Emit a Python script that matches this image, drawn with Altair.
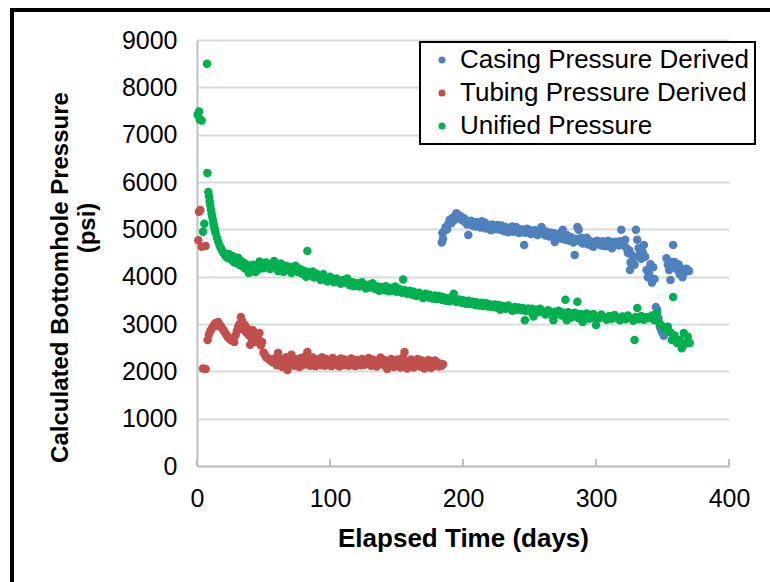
import altair as alt
import pandas as pd

# ---------------- data ----------------
series_names = ["Casing Pressure Derived", "Tubing Pressure Derived", "Unified Pressure"]
series_colors = ["#4F81BD", "#C0504D", "#00B050"]

casing_days = [184, 184.5, 185, 186, 187, 188, 189, 190, 191, 192, 193, 194, 195, 196, 197, 198, 199, 200,
               201, 202, 203, 204, 205, 206, 207, 208, 209, 210, 211, 212, 213, 214, 215, 216, 217, 218, 219,
               220, 221, 222, 223, 224, 225, 226, 227, 228, 229, 230, 231, 232, 233, 234, 235, 236, 237, 238,
               239, 240, 241, 242, 243, 244, 245, 246, 247, 248, 249, 250, 251, 252, 253, 254, 255, 256, 257,
               258, 259, 260, 261, 262, 263, 264, 265, 266, 267, 268, 269, 270, 271, 272, 273, 274, 275, 276,
               277, 278, 279, 280, 281, 282, 283, 284, 285, 286, 287, 288, 289, 290, 291, 292, 293, 294, 295,
               296, 297, 298, 299, 300, 301, 302, 303, 304, 305, 306, 307, 308, 309, 310, 311, 312, 313, 314,
               315, 316, 317, 318, 319, 320, 321, 322, 323, 324, 325, 325.5, 326, 327, 328, 329, 330, 331, 332,
               333, 334, 335, 336, 337, 338, 339, 340, 341, 342, 343, 344, 345, 346, 347, 348, 349, 350, 351,
               353, 354, 355, 356, 357, 358, 359, 360, 361, 362, 363, 364, 365, 366, 367, 368, 369, 370]
casing_psi = [4720, 4920, 4800, 4970, 5050, 5000, 5120, 5200, 5130, 5240, 5180, 5280, 5340, 5250, 5300, 5220,
              5260, 5180, 5230, 5150, 5100, 4880, 5140, 5180, 5080, 5120, 5060, 5150, 5090, 5130, 5040, 5170,
              5080, 5150, 5020, 5110, 5060, 5050, 4980, 5100, 5030, 5070, 5000, 5090, 5040, 4990, 5080, 5020,
              4960, 5050, 5000, 4940, 5030, 4980, 5060, 4950, 5010, 5050, 4970, 4920, 5000, 4940, 4990, 4670,
              4930, 5010, 4950, 4990, 4900, 4960, 4920, 4980, 4940, 4880, 4960, 4910, 5050, 4990, 4920, 4870,
              4950, 4900, 4850, 4930, 4880, 4920, 4730, 4850, 4900, 4820, 4880, 4800, 4990, 4860, 4780, 4880,
              4820, 4760, 4840, 4780, 4720, 4460, 4800, 5050, 4990, 4750, 4820, 4700, 4780, 4720, 4820, 4680,
              4760, 4700, 4650, 4630, 4740, 4680, 4760, 4700, 4730, 4660, 4750, 4690, 4640, 4710, 4760, 4680,
              4720, 4600, 4730, 4680, 4740, 4700, 4660, 4750, 4990, 4720, 4660, 4780, 4600, 4500, 4560, 4140,
              4300, 4450, 4390, 4250, 4990, 4780, 4600, 4480, 4380, 4520, 4670, 4420, 4140, 3990, 4050, 4260,
              3870, 4200, 3950, 3360, 3300, 3120, 2940, 2870, 2810, 2750, 4390, 4250, 4140, 3930, 4310, 4670,
              4310, 4200, 4150, 4260, 4050, 4180, 3990, 4140, 4100, 4170, 4140, 4120]

tubing_days = [1, 1.5, 2.5, 3.5, 6.5, 4.5, 6.5, 8, 9, 10, 11, 12, 13, 14, 15, 16, 17, 18, 19, 20, 21, 22, 23,
               24, 25, 26, 27, 28, 29, 30, 31, 32, 33, 34, 35, 36, 37, 38, 39, 40, 41, 42, 43, 44, 45, 46, 47,
               48, 49, 50, 51, 52, 53, 54, 55, 56, 57, 58, 59, 60, 61, 62, 63, 64, 65, 66, 67, 68, 69, 70, 71,
               72, 73, 74, 75, 76, 77, 78, 79, 80, 81, 82, 83, 84, 85, 86, 87, 88, 89, 90, 91, 92, 93, 94, 95,
               96, 97, 98, 99, 100, 101, 102, 103, 104, 105, 106, 107, 108, 109, 110, 111, 112, 113, 114, 115,
               116, 117, 118, 119, 120, 121, 122, 123, 124, 125, 126, 127, 128, 129, 130, 131, 132, 133, 134,
               135, 136, 137, 138, 139, 140, 141, 142, 143, 144, 145, 146, 147, 148, 149, 150, 151, 152, 153,
               154, 155, 156, 157, 158, 159, 160, 161, 162, 163, 164, 165, 166, 167, 168, 169, 170, 171, 172,
               173, 174, 175, 176, 177, 178, 179, 180, 181, 182, 183, 184, 185]
tubing_psi = [4770, 5370, 5410, 4630, 4650, 2060, 2050, 2660, 2780, 2850, 2900, 2940, 2990, 3020, 2960, 3040,
              2990, 2950, 2900, 2870, 2820, 2780, 2730, 2700, 2680, 2650, 2700, 2620, 2760, 2850, 2940, 3000,
              3150, 3060, 2880, 2980, 2820, 2900, 2760, 2560, 2700, 2870, 2800, 2620, 2780, 2700, 2810, 2550,
              2620, 2400, 2350, 2300, 2280, 2260, 2230, 2250, 2190, 2200, 2280, 2130, 2390, 2230, 2150, 2090,
              2260, 2180, 2300, 2030, 2220, 2160, 2350, 2200, 2120, 2260, 2240, 2170, 2090, 2280, 2130, 2200,
              2310, 2150, 2410, 2230, 2120, 2180, 2290, 2200, 2110, 2250, 2170, 2240, 2130, 2300, 2190, 2120,
              2260, 2200, 2150, 2230, 2110, 2280, 2180, 2240, 2140, 2210, 2100, 2270, 2190, 2130, 2250, 2180,
              2220, 2120, 2200, 2270, 2150, 2210, 2110, 2240, 2170, 2210, 2130, 2260, 2190, 2140, 2230, 2170,
              2280, 2200, 2120, 2250, 2180, 2210, 2100, 2230, 2160, 2290, 2200, 2140, 2240, 2170, 2050, 2210,
              2130, 2260, 2180, 2090, 2220, 2150, 2250, 2170, 2080, 2230, 2300, 2410, 2160, 2060, 2200, 2130,
              2250, 2170, 2080, 2210, 2140, 2260, 2180, 2100, 2230, 2150, 2060, 2200, 2130, 2240, 2160, 2070,
              2210, 2140, 2230, 2120, 2180, 2100, 2160, 2120, 2150]

unified_days = [0.5, 1.5, 2, 3.5, 4.5, 5.5, 7.5, 7.8, 8.5, 9, 9.5, 10, 10.5, 11, 11.5, 12, 12.5, 13, 13.5, 14,
                15, 16, 17, 18, 19, 20, 21, 22, 23, 24, 25, 26, 27, 28, 29, 30, 31, 32, 33, 34, 35, 36, 37,
                38, 39, 40, 41, 42, 43, 44, 45, 46, 47, 48, 49, 50, 52, 53, 55, 57, 58, 60, 61, 63, 64, 65,
                67, 68, 70, 71, 73, 74, 76, 77, 79, 80, 82, 83, 84, 85, 87, 88, 90, 92, 93, 95, 96, 98, 100,
                101, 103, 105, 106, 108, 110, 112, 113, 115, 117, 118, 120, 122, 124, 125, 127, 129, 130, 132,
                134, 135, 137, 139, 140, 142, 144, 145, 147, 149, 150, 152, 154, 155, 156, 158, 160, 162, 163,
                165, 167, 169, 170, 172, 174, 175, 177, 179, 180, 182, 184, 185, 187, 189, 190, 192, 193, 195,
                197, 199, 200, 202, 204, 205, 207, 209, 210, 212, 214, 215, 217, 219, 220, 222, 224, 225, 227,
                228, 230, 232, 234, 235, 237, 239, 240, 242, 244, 245, 246.5, 247, 249, 250, 252, 253, 255,
                257, 258, 260, 262, 264, 265, 267, 268, 269, 270, 272, 274, 275, 276, 277, 278, 279, 280, 281,
                282, 283, 284, 285, 286, 287, 288, 289, 290, 291, 292, 293, 294, 295, 296, 297, 298, 299, 300,
                302, 304, 306, 308, 310, 312, 314, 316, 318, 320, 322, 324, 326, 328, 329, 330, 331, 332, 334,
                336, 338, 340, 342, 344, 346, 348, 350, 352, 354, 356, 357, 358, 359, 361, 363, 364.5, 366,
                367, 369, 370.5]
unified_psi = [7420, 7490, 7320, 7300, 4950, 5120, 8500, 6190, 5790, 5700, 5600, 5510, 5420, 5330, 5260, 5180,
               5110, 5040, 4980, 4920, 4820, 4740, 4660, 4600, 4540, 4500, 4460, 4420, 4400, 4480, 4380, 4350,
               4430, 4300, 4360, 4290, 4400, 4250, 4330, 4220, 4300, 4180, 4260, 4150, 4080, 4200, 4120, 4250,
               4170, 4100, 4230, 4150, 4320, 4210, 4260, 4180, 4300, 4220, 4160, 4250, 4330, 4200, 4120, 4280,
               4180, 4100, 4230, 4150, 4200, 4080, 4160, 4230, 4100, 4170, 4060, 4130, 4000, 4540, 4100, 4030,
               4110, 3980, 4060, 4000, 3930, 4050, 3970, 3900, 4000, 3940, 3880, 3960, 3900, 3850, 3930, 3870,
               3960, 3820, 3880, 3800, 3860, 3790, 3880, 3810, 3750, 3830, 3770, 3860, 3740, 3800, 3700, 3780,
               3720, 3800, 3690, 3760, 3700, 3790, 3680, 3740, 3660, 3940, 3720, 3640, 3700, 3620, 3680, 3590,
               3660, 3600, 3550, 3640, 3560, 3620, 3540, 3600, 3530, 3590, 3510, 3570, 3490, 3550, 3480, 3540,
               3640, 3470, 3520, 3450, 3500, 3430, 3490, 3420, 3470, 3400, 3460, 3390, 3450, 3380, 3440, 3370,
               3420, 3360, 3410, 3350, 3400, 3300, 3380, 3320, 3390, 3340, 3280, 3360, 3300, 3350, 3290, 3340,
               3080, 3280, 3330, 3270, 3320, 3160, 3300, 3250, 3320, 3260, 3200, 3290, 3230, 3170, 3080, 3260,
               3210, 3280, 3180, 3240, 3230, 3510, 3080, 3250, 3190, 3130, 3220, 3160, 3240, 3180, 3470, 3120,
               3210, 3150, 3040, 3200, 3140, 3220, 3160, 3110, 3190, 3130, 3210, 3150, 2980, 3120, 3200, 3140,
               3090, 3170, 3110, 3190, 3130, 3080, 3160, 3100, 3180, 3120, 3070, 2660, 3150, 3340, 3100, 3170,
               3090, 3150, 3120, 3180, 3080, 3230, 3010, 2950, 2880, 2940, 2820, 2660, 3570, 2760, 2600, 2660,
               2490, 2810, 2580, 2730, 2600]

x_ticks = [0, 100, 200, 300, 400]
y_ticks = [0, 1000, 2000, 3000, 4000, 5000, 6000, 7000, 8000, 9000]
y_title_line1 = "Calculated Bottomhole Pressure"
y_title_line2 = "(psi)"

# ---------------- build table ----------------
rows = []
for name, days, psi in [(series_names[0], casing_days, casing_psi),
                        (series_names[1], tubing_days, tubing_psi),
                        (series_names[2], unified_days, unified_psi)]:
    for d, p in zip(days, psi):
        rows.append({"Series": name, "Days": d, "Psi": p})
df = pd.DataFrame(rows)
df["order"] = df["Series"].map({n: i for i, n in enumerate(series_names)})

W, H = 532, 426
FONT = "Liberation Sans"

x_scale = alt.Scale(domain=[0, 400], nice=False, zero=True)
y_scale = alt.Scale(domain=[0, 9000], nice=False)

points = alt.Chart(df).mark_circle(size=72, opacity=1).encode(
    x=alt.X("Days:Q", scale=x_scale,
            axis=alt.Axis(values=x_ticks, format="d", grid=False, ticks=False, domainColor="#bfbfbf",
                          domainWidth=2, labelFlush=False, labelFontSize=25, labelFont=FONT,
                          labelColor="#000000", labelPadding=20,
                          title="Elapsed Time (days)", titleFont=FONT, titleFontSize=26,
                          titleFontWeight="bold", titleColor="#000000", titlePadding=14)),
    y=alt.Y("Psi:Q", scale=y_scale,
            axis=alt.Axis(values=y_ticks, format="d", grid=True, gridColor="#d9d9d9", gridWidth=2,
                          ticks=False, domainColor="#bfbfbf", domainWidth=2, labelFontSize=25,
                          labelFont=FONT, labelColor="#000000", labelPadding=20,
                          title=y_title_line1, titleFont=FONT,
                          titleFontSize=24, titleFontWeight="bold", titleColor="#000000",
                          titleX=-137, titleY=237, titleBaseline="middle",
                          titleAlign="center", titleAngle=270)),
    color=alt.Color("Series:N", scale=alt.Scale(domain=series_names, range=series_colors),
                    legend=alt.Legend(title=None, orient="none", legendX=223, legendY=2,
                                      strokeColor="#000000", padding=5, symbolType="circle",
                                      symbolSize=50, symbolOffset=4, labelFontSize=26, labelFont=FONT,
                                      labelColor="#000000", labelOffset=5, rowPadding=7,
                                      labelLimit=400, fillColor="#ffffff")),
    order=alt.Order("order:Q"),
)

# second line of the y-axis title
psi_label = alt.Chart(alt.Data(values=[{"t": y_title_line2}])).mark_text(
    font=FONT, fontSize=24, fontWeight="bold", color="#000000", angle=270,
    align="center", baseline="middle"
).encode(text="t:N", x=alt.value(-109), y=alt.value(188))

tick_df = pd.DataFrame({"t": x_ticks})
ticks = alt.Chart(tick_df).mark_rule(color="#bfbfbf", strokeWidth=2).encode(
    x=alt.X("t:Q", scale=x_scale),
    y=alt.value(H - 7),
    y2=alt.value(H),
)

frame = alt.Chart(alt.Data(values=[{"f": 1}])).mark_rect(
    fill=None, stroke="#000000", strokeWidth=4
).encode(
    x=alt.value(-185), x2=alt.value(590), y=alt.value(-30), y2=alt.value(560)
)

chart = alt.layer(ticks, points, psi_label, frame).properties(
    width=W, height=H,
    autosize=alt.AutoSizeParams(type="none"),
    padding={"left": 197, "top": 40, "right": 41, "bottom": 116},
).configure_view(stroke=None).configure_legend(strokeWidth=2)

chart.save("out.html", embed_options={"renderer": "svg", "actions": False})
